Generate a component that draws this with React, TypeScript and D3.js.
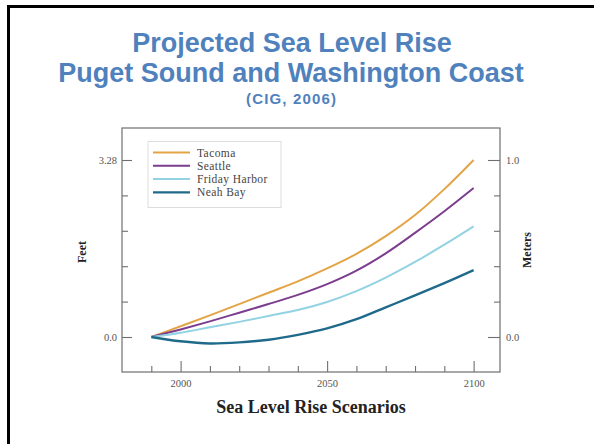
import { useEffect, useRef } from "react";
import * as d3 from "d3";

const years = [1990, 2000, 2010, 2020, 2030, 2040, 2050, 2060, 2070, 2080, 2090, 2100];
const tacoma = [0, 0.2, 0.4, 0.61, 0.82, 1.03, 1.27, 1.54, 1.87, 2.26, 2.74, 3.28];
const seattle = [0, 0.14, 0.29, 0.45, 0.61, 0.78, 0.98, 1.23, 1.55, 1.93, 2.33, 2.76];
const fridayHarbor = [0, 0.08, 0.18, 0.28, 0.39, 0.5, 0.65, 0.85, 1.1, 1.39, 1.71, 2.05];
const neahBay = [0, -0.08, -0.12, -0.1, -0.05, 0.04, 0.16, 0.33, 0.55, 0.77, 1.0, 1.24];

const seriesNames = ["Tacoma", "Seattle", "Friday Harbor", "Neah Bay"];
const seriesValues = [tacoma, seattle, fridayHarbor, neahBay];
const seriesColors = ["#e3a445", "#7c3d8e", "#92d2e2", "#1f6a8b"];

const xMajorTicks = [2000, 2050, 2100];
const xMinorTicks = [1990, 2010, 2020, 2030, 2040, 2060, 2070, 2080, 2090];
const feetTicks = [0, 3.28];
const meterTicks = [0, 1.0];

const titleLines = ["Projected Sea Level Rise", "Puget Sound and Washington Coast"];
const subtitle = "(CIG, 2006)";

export default function App() {
  const ref = useRef<SVGSVGElement>(null);

  useEffect(() => {
    if (!ref.current) return;
    const svg = d3.select(ref.current);
    svg.selectAll("*").remove();

    const W = 594;
    const H = 444;
    svg.append("rect").attr("width", W).attr("height", H).attr("fill", "#fff");

    // slide border (left + top only, slide is cropped)
    svg.append("path")
      .attr("d", `M8.5,${H} L8.5,6.5 L${W},6.5`)
      .attr("fill", "none")
      .attr("stroke", "#000")
      .attr("stroke-width", 3);

    // titles
    const blue = "#4f81bd";
    const titleFont = "'Liberation Sans', Arial, sans-serif";
    svg.append("text")
      .attr("x", 292).attr("y", 52)
      .attr("text-anchor", "middle")
      .attr("font-family", titleFont).attr("font-weight", "bold").attr("font-size", 27)
      .attr("fill", blue)
      .text(titleLines[0]);
    svg.append("text")
      .attr("x", 291).attr("y", 82)
      .attr("text-anchor", "middle")
      .attr("font-family", titleFont).attr("font-weight", "bold").attr("font-size", 27)
      .attr("fill", blue)
      .text(titleLines[1]);
    svg.append("text")
      .attr("x", 291).attr("y", 104)
      .attr("text-anchor", "middle")
      .attr("font-family", titleFont).attr("font-weight", "bold").attr("font-size", 15)
      .attr("fill", blue)
      .attr("textLength", 90).attr("lengthAdjust", "spacing")
      .text(subtitle);

    // plot frame
    const left = 122, right = 500, top = 128, bottom = 372;
    const x = d3.scaleLinear().domain([1980, 2109]).range([left, right]);
    const yFt = d3.scaleLinear().domain([0, 3.28]).range([337, 160]);
    const yM = d3.scaleLinear().domain([0, 1]).range([337, 160]);

    const axisColor = "#6f6f6f";
    const serif = "'Liberation Serif', 'Times New Roman', serif";

    svg.append("rect")
      .attr("x", left).attr("y", top)
      .attr("width", right - left).attr("height", bottom - top)
      .attr("fill", "none").attr("stroke", axisColor).attr("stroke-width", 1.2);

    // left axis (feet)
    const ftMinor = d3.range(1, 5).map(i => (3.28 / 5) * i);
    const leftAxis = svg.append("g").attr("transform", `translate(${left},0)`);
    leftAxis.call(d3.axisLeft(yFt).tickValues(feetTicks).tickSizeInner(-10).tickSizeOuter(0).tickPadding(5)
      .tickFormat(d => (d as number) === 0 ? "0.0" : "3.28"));
    leftAxis.append("g").call(d3.axisLeft(yFt).tickValues(ftMinor).tickSizeInner(-6).tickSizeOuter(0).tickFormat(() => ""));

    // right axis (meters)
    const mMinor = d3.range(1, 5).map(i => i / 5);
    const rightAxis = svg.append("g").attr("transform", `translate(${right},0)`);
    rightAxis.call(d3.axisRight(yM).tickValues(meterTicks).tickSizeInner(-12).tickSizeOuter(0).tickPadding(6)
      .tickFormat(d3.format(".1f")));
    rightAxis.append("g").call(d3.axisRight(yM).tickValues(mMinor).tickSizeInner(-6).tickSizeOuter(0).tickFormat(() => ""));

    // bottom axis (years)
    const bottomAxis = svg.append("g").attr("transform", `translate(0,${bottom})`);
    bottomAxis.call(d3.axisBottom(x).tickValues(xMajorTicks).tickSizeInner(-11).tickSizeOuter(0).tickPadding(8)
      .tickFormat(d3.format("d")));
    bottomAxis.append("g").call(d3.axisBottom(x).tickValues(xMinorTicks).tickSizeInner(-6).tickSizeOuter(0).tickFormat(() => ""));

    svg.selectAll(".domain").remove();
    svg.selectAll(".tick line").attr("stroke", axisColor).attr("stroke-width", 1.1);
    svg.selectAll(".tick text").attr("fill", "#555").attr("font-family", serif).attr("font-size", 10.5);

    // axis titles
    svg.append("text")
      .attr("transform", "translate(86,252) rotate(-90)")
      .attr("text-anchor", "middle")
      .attr("font-family", serif).attr("font-weight", "bold").attr("font-size", 12)
      .attr("fill", "#222")
      .text("Feet");
    svg.append("text")
      .attr("transform", "translate(531,250) rotate(-90)")
      .attr("text-anchor", "middle")
      .attr("font-family", serif).attr("font-weight", "bold").attr("font-size", 12)
      .attr("fill", "#222")
      .text("Meters");
    svg.append("text")
      .attr("x", 311).attr("y", 413)
      .attr("text-anchor", "middle")
      .attr("font-family", serif).attr("font-weight", "bold").attr("font-size", 18)
      .attr("fill", "#222")
      .text("Sea Level Rise Scenarios");

    // curves
    const line = d3.line<number>()
      .x((_, i) => x(years[i]))
      .y(d => yFt(d))
      .curve(d3.curveCatmullRom.alpha(0.5));

    seriesValues.forEach((vals, i) => {
      svg.append("path")
        .datum(vals)
        .attr("fill", "none")
        .attr("stroke", seriesColors[i])
        .attr("stroke-width", i === 3 ? 2.4 : 2)
        .attr("d", line);
    });

    // legend
    const legend = svg.append("g");
    legend.append("rect")
      .attr("x", 148).attr("y", 141.5)
      .attr("width", 133).attr("height", 66)
      .attr("fill", "#fff").attr("stroke", "#ddd").attr("stroke-width", 1);
    seriesNames.forEach((name, i) => {
      const yy = 152.5 + i * 13.3;
      legend.append("line")
        .attr("x1", 153).attr("x2", 190)
        .attr("y1", yy).attr("y2", yy)
        .attr("stroke", seriesColors[i])
        .attr("stroke-width", i === 3 ? 2.4 : 2);
      legend.append("text")
        .attr("x", 197).attr("y", yy)
        .attr("dy", "0.35em")
        .attr("font-family", serif).attr("font-size", 11.5)
        .attr("letter-spacing", 0.4)
        .attr("fill", "#444")
        .text(name);
    });
  }, []);

  return (
    <svg
      ref={ref}
      width={594}
      height={444}
      style={{ position: "absolute", left: 0, top: 0 }}
    />
  );
}
